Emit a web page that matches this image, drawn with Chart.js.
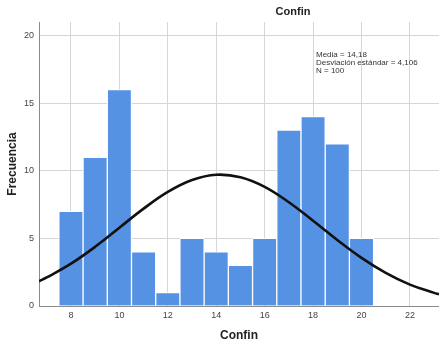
<!DOCTYPE html>
<html>
<head>
<meta charset="utf-8">
<script src="https://cdn.jsdelivr.net/npm/chart.js@4"></script>
<style>
  html, body { margin: 0; padding: 0; background: #fff; }
  #wrap { width: 439px; height: 343px; }
</style>
</head>
<body>
<div id="wrap"><canvas id="grafico"></canvas></div>
<script>
// Datos del histograma (centro de cada barra y frecuencia)
const centros = [8, 9, 10, 11, 12, 13, 14, 15, 16, 17, 18, 19, 20];
const frecuencias = [7, 11, 16, 4, 1, 5, 4, 3, 5, 13, 14, 12, 5];

// Curva normal
const curvaX = [6.68, 7, 8, 9, 10, 11, 12, 13, 14, 15, 16, 17, 18, 19, 20, 21, 22, 23, 23.2];
const curvaY = [1.83, 2.11, 3.13, 4.38, 5.79, 7.2, 8.44, 9.32, 9.71, 9.52, 8.81, 7.67, 6.3, 4.88, 3.56, 2.45, 1.58, 0.97, 0.87];

const ticksX = [8, 10, 12, 14, 16, 18, 20, 22];
const ticksY = [0, 5, 10, 15, 20];

const titulo = 'Confin';
const estadisticas = ['Media = 14,18', 'Desviación estándar = 4,106', 'N = 100'];

const fuente = 'Liberation Sans, Arial, sans-serif';

// Textos sueltos: titulo y cuadro de estadisticas
const textosPlugin = {
    id: 'textos',
    afterDraw(chart) {
        const ctx = chart.ctx;
        ctx.save();
        ctx.fillStyle = '#222';
        ctx.font = 'bold 11px ' + fuente;
        ctx.textAlign = 'center';
        ctx.textBaseline = 'middle';
        ctx.fillText(titulo, 293, 12);

        ctx.font = '8px ' + fuente;
        ctx.textAlign = 'left';
        ctx.fillStyle = '#333';
        estadisticas.forEach((t, i) => ctx.fillText(t, 316, 55 + i * 8));
        ctx.restore();
    }
};

new Chart(document.getElementById('grafico'), {
    data: {
        datasets: [{
            type: 'line',
            data: curvaX.map((x, i) => ({ x: x, y: curvaY[i] })),
            borderColor: '#111',
            borderWidth: 2.6,
            pointRadius: 0,
            tension: 0.4,
            fill: false,
            clip: 0,
            order: 0
        }, {
            type: 'bar',
            data: centros.map((x, i) => ({ x: x, y: frecuencias[i] })),
            backgroundColor: '#5592e3',
            borderColor: '#ffffff',
            borderWidth: 1,
            barPercentage: 1,
            categoryPercentage: 1,
            order: 1
        }]
    },
    options: {
        responsive: true,
        maintainAspectRatio: false,
        animation: false,
        layout: { padding: { top: 22, right: 0, left: 0, bottom: 0 } },
        plugins: {
            legend: { display: false },
            tooltip: { enabled: false }
        },
        scales: {
            x: {
                type: 'linear',
                min: 6.68,
                max: 23.2,
                offset: false,
                afterBuildTicks: s => { s.ticks = ticksX.map(v => ({ value: v })); },
                afterFit: s => { s.height = 37; },
                grid: { color: '#d6d6d6', drawTicks: false, offset: false },
                border: { color: '#8a8a8a', width: 1 },
                ticks: { padding: 4, color: '#444', font: { size: 9, family: fuente } },
                title: {
                    display: true,
                    text: 'Confin',
                    color: '#222',
                    font: { size: 12, weight: 'bold', family: fuente },
                    padding: { top: 0, bottom: 0 }
                }
            },
            y: {
                min: 0,
                max: 21,
                afterBuildTicks: s => { s.ticks = ticksY.map(v => ({ value: v })); },
                afterFit: s => { s.width = 39; },
                grid: { color: '#d6d6d6', drawTicks: false },
                border: { color: '#8a8a8a', width: 1 },
                ticks: { padding: 5, color: '#444', font: { size: 9, family: fuente } },
                title: {
                    display: true,
                    text: 'Frecuencia',
                    color: '#222',
                    font: { size: 12, weight: 'bold', family: fuente },
                    padding: { top: 5, bottom: 0 }
                }
            }
        }
    },
    plugins: [textosPlugin]
});
</script>
</body>
</html>
